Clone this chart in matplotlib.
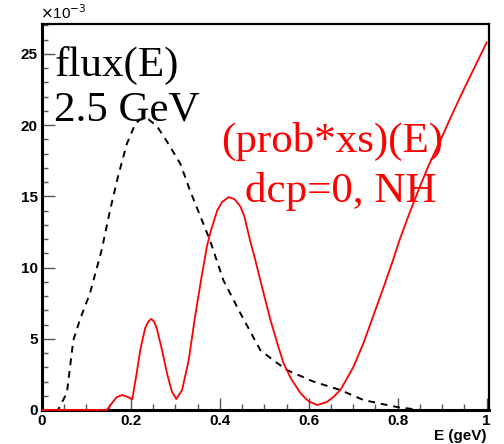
import numpy as np
import matplotlib
matplotlib.use('Agg')
import matplotlib.pyplot as plt
from matplotlib.ticker import MultipleLocator

# values in units of 1e-3
flux_e = [0.0, 0.036, 0.056, 0.0705, 0.086, 0.108, 0.134, 0.153, 0.171, 0.191, 0.21, 0.221,
          0.24, 0.259, 0.28, 0.311, 0.333, 0.378, 0.408, 0.446, 0.491, 0.52, 0.551, 0.61,
          0.671, 0.723, 0.76, 0.8, 0.85, 1.0]
flux_y = [0.0, 0.0, 1.2, 4.9, 6.4, 8.2, 11.2, 14.0, 16.4, 18.7, 20.1, 20.4,
          20.4, 19.9, 18.9, 17.3, 15.4, 11.9, 9.1, 6.8, 4.2, 3.5, 2.8, 2.0,
          1.4, 0.7, 0.45, 0.2, 0.0, 0.0]

prob_e = [0.0, 0.146, 0.157, 0.168, 0.18, 0.194, 0.203, 0.213, 0.221, 0.232, 0.239, 0.2455,
          0.252, 0.258, 0.27, 0.281, 0.292, 0.302, 0.315, 0.33, 0.343, 0.357, 0.371, 0.38,
          0.394, 0.405, 0.42, 0.433, 0.446, 0.455, 0.468, 0.48, 0.491, 0.50, 0.514, 0.53,
          0.543, 0.56, 0.581, 0.59, 0.60, 0.619, 0.64, 0.655, 0.671, 0.70, 0.723, 0.745,
          0.768, 0.787, 0.806, 0.825, 0.85, 0.87, 0.9, 0.92, 0.95, 0.975, 1.0]
prob_y = [0.0, 0.0, 0.47, 0.9, 1.05, 0.9, 0.75, 2.6, 4.2, 5.75, 6.2, 6.4,
          6.2, 5.75, 4.2, 2.6, 1.3, 0.77, 1.4, 3.5, 6.3, 9.0, 11.5, 12.6,
          14.0, 14.6, 14.95, 14.8, 14.3, 13.6, 11.9, 10.5, 9.1, 8.0, 6.3, 4.6,
          3.3, 2.2, 1.2, 0.9, 0.6, 0.35, 0.55, 0.9, 1.4, 3.0, 4.7, 6.6,
          8.6, 10.3, 12.1, 13.7, 15.7, 17.2, 19.2, 20.6, 22.6, 24.2, 25.8]

y_ticks = [0, 5, 10, 15, 20, 25]
x_ticks = [0, 0.2, 0.4, 0.6, 0.8, 1.0]
x_labels = ['0', '0.2', '0.4', '0.6', '0.8', '1']

fig = plt.figure(figsize=(5.04, 4.44), dpi=100)
ax = fig.add_axes([0.0833, 0.0766, 0.8867, 0.8694])

ax.plot(flux_e, flux_y, color='black', lw=1.4, ls=(0, (3.5, 3)), zorder=3, clip_on=False)
ax.plot(prob_e, prob_y, color='red', lw=1.3, zorder=4, clip_on=False,
        solid_joinstyle='round')

ax.set_xlim(0, 1.005)
ax.set_ylim(0, 27.1)

ax.set_xticks(x_ticks)
ax.set_xticklabels(x_labels)
ax.set_yticks(y_ticks)
ax.xaxis.set_minor_locator(MultipleLocator(0.05))
ax.yaxis.set_minor_locator(MultipleLocator(1))
ax.tick_params(which='both', direction='in', top=False, right=False, width=1, color='#555555')
ax.tick_params(which='major', length=9, pad=3)
ax.tick_params(which='minor', length=4.5)
for lab in ax.get_xticklabels() + ax.get_yticklabels():
    lab.set_fontfamily('Liberation Sans')
    lab.set_fontweight('bold')
    lab.set_fontsize(11)

ax.spines['left'].set_linewidth(2.2)
ax.spines['bottom'].set_linewidth(2.2)
ax.spines['top'].set_linewidth(1.6)
ax.spines['right'].set_linewidth(1.6)

fig.text(0.08, 0.972, r'$\times$10$^{-3}$', fontsize=11, family='Liberation Sans',
         ha='left', va='center')
fig.text(0.965, 0.002, 'E (geV)', fontsize=11, family='Liberation Sans', fontweight='bold',
         ha='right', va='bottom')

serif = 'Liberation Serif'
ax.text(0.028, 0.865, 'flux(E)', transform=ax.transAxes, family=serif, fontsize=31,
        color='black', va='baseline')
ax.text(0.028, 0.749, '2.5 GeV', transform=ax.transAxes, family=serif, fontsize=31,
        color='black', va='baseline')
ax.text(0.40, 0.668, '(prob*xs)(E)', transform=ax.transAxes, family=serif, fontsize=31,
        color='red', va='baseline')
ax.text(0.455, 0.538, 'dcp=0, NH', transform=ax.transAxes, family=serif, fontsize=31,
        color='red', va='baseline')

fig.savefig('out.png', dpi=100)
